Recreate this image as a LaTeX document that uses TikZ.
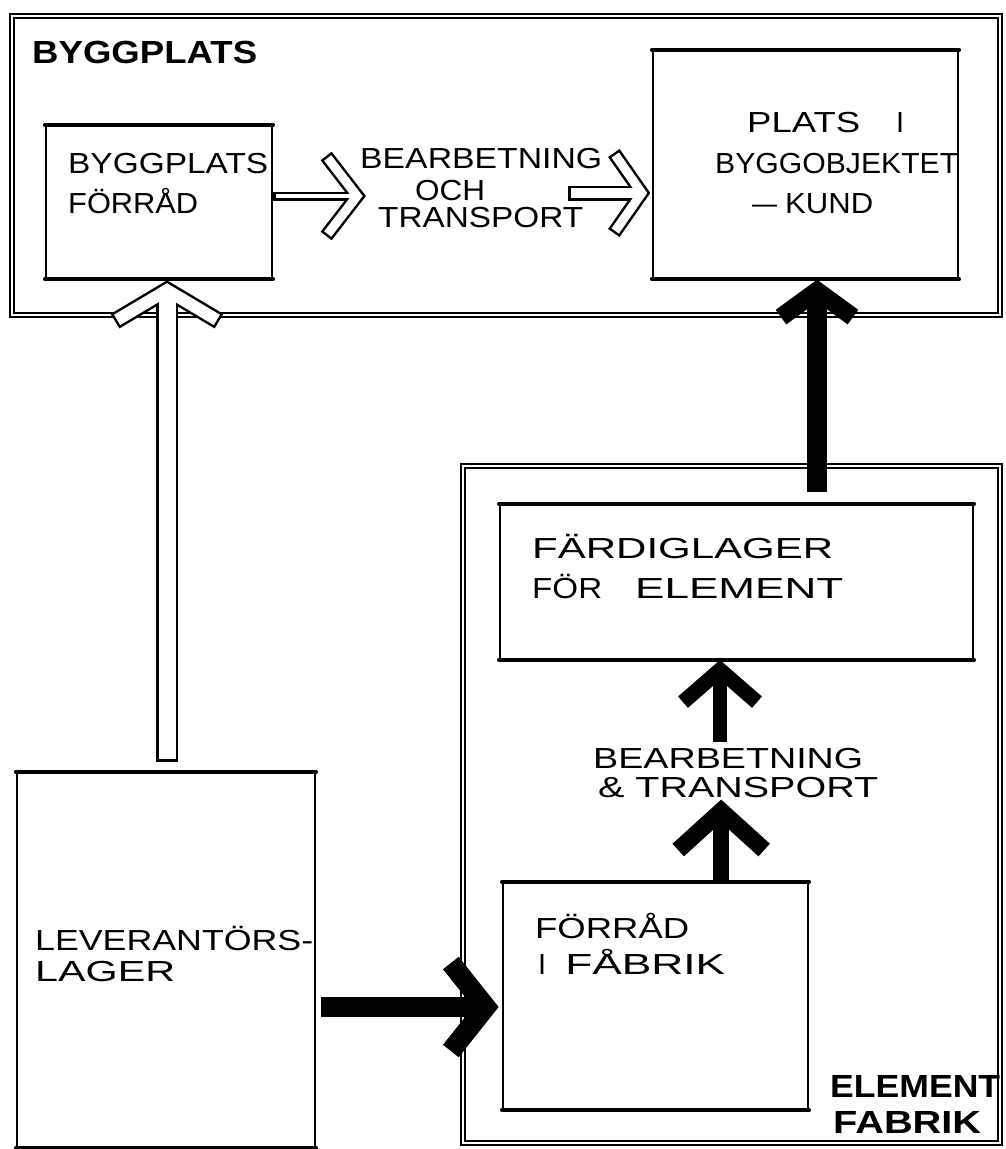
\documentclass[tikz,border=0pt]{standalone}
\usepackage{graphicx}
\usepackage{fontspec}
\setmainfont{Liberation Sans}
\usetikzlibrary{calc}

% stretch a line of text horizontally to a given width
\newcommand{\linefit}[2]{\resizebox{#1}{\height}{#2}}

% solid arrow pointing up: tail, tip, shaft width, arm width, half span, head depth
\newcommand{\SolidUp}[6]{%
  \draw[line width=#3pt, line cap=butt] (#1) -- ($(#2)+(0,0.6*#4+4)$);
  \draw[line width=#4pt, line cap=butt, line join=miter]
    ($(#2)+(-#5,#6)$) -- ($(#2)+(0,0.65*#4)$) -- ($(#2)+(#5,#6)$);}

% solid arrow pointing right
\newcommand{\SolidRight}[6]{%
  \draw[line width=#3pt, line cap=butt] (#1) -- ($(#2)+(-0.6*#4-4,0)$);
  \draw[line width=#4pt, line cap=butt, line join=miter]
    ($(#2)+(-#6,-#5)$) -- ($(#2)+(-0.65*#4,0)$) -- ($(#2)+(-#6,#5)$);}

% outlined (hollow) arrow pointing up
\newcommand{\HollowUp}[6]{%
  \draw[line width=#3pt, line cap=butt] (#1) -- ($(#2)+(0,0.6*#4+4)$);
  \draw[line width=#4pt, line cap=butt, line join=miter]
    ($(#2)+(-#5,#6)$) -- ($(#2)+(0,0.65*#4)$) -- ($(#2)+(#5,#6)$);
  \draw[white, line width={(#3-5)*1pt}, line cap=butt, shorten <=2.5pt]
    (#1) -- ($(#2)+(0,0.6*#4+4)$);
  \draw[white, line width={(#4-5)*1pt}, line cap=butt, line join=miter,
        shorten <=2.5pt, shorten >=2.5pt]
    ($(#2)+(-#5,#6)$) -- ($(#2)+(0,0.65*#4)$) -- ($(#2)+(#5,#6)$);}

% outlined (hollow) arrow pointing right
\newcommand{\HollowRight}[6]{%
  \draw[line width=#3pt, line cap=butt] (#1) -- ($(#2)+(-0.6*#4-4,0)$);
  \draw[line width=#4pt, line cap=butt, line join=miter]
    ($(#2)+(-#6,-#5)$) -- ($(#2)+(-0.65*#4,0)$) -- ($(#2)+(-#6,#5)$);
  \draw[white, line width={(#3-5)*1pt}, line cap=butt, shorten <=2.5pt]
    (#1) -- ($(#2)+(-0.6*#4-4,0)$);
  \draw[white, line width={(#4-5)*1pt}, line cap=butt, line join=miter,
        shorten <=2.5pt, shorten >=2.5pt]
    ($(#2)+(-#6,-#5)$) -- ($(#2)+(-0.65*#4,0)$) -- ($(#2)+(-#6,#5)$);}

\begin{document}
\begin{tikzpicture}[x=1pt, y=-1pt,
  frame/.style={draw, double, line width=1.3pt, double distance=2.6pt, inner sep=0pt},
  box/.style={draw, line width=2.3pt, inner sep=0pt},
  txt/.style={anchor=base west, inner sep=0pt, font=\fontsize{29}{34}\selectfont},
  lab/.style={anchor=base west, inner sep=0pt, font=\fontsize{32}{38}\selectfont\bfseries}]

\fill[white] (0,0) rectangle (1005,1149);
\useasboundingbox (0,0) rectangle (1005,1149);

% site and factory frames
\node[frame, minimum width=988pt, minimum height=299pt] (site) at (506,165.5) {};
\node[frame, minimum width=537pt, minimum height=677pt] (factory) at (731.5,804.5) {};

% storage and process boxes
\node[box, minimum width=226pt, minimum height=152pt] (store) at (159,202) {};
\node[box, minimum width=305pt, minimum height=227pt] (place) at (805.5,164.5) {};
\node[box, minimum width=473pt, minimum height=154pt] (ready) at (736.5,582) {};
\node[box, minimum width=305pt, minimum height=226pt] (fstore) at (655.5,996) {};
\node[box, minimum width=298pt, minimum height=374pt] (supplier) at (166,960) {};

% heavier top and bottom edges of the boxes
\foreach \b in {store,place,ready,fstore,supplier}
  \draw[line width=3.8pt, line cap=round]
    (\b.north west) -- (\b.north east) (\b.south west) -- (\b.south east);

% labels
\node[lab] (siteLabel) at (32,63) {\linefit{225pt}{BYGGPLATS}};
\node[lab] (facLabelA) at (830,1097) {\linefit{170pt}{ELEMENT}};
\node[lab] (facLabelB) at (833,1133) {\linefit{148pt}{FABRIK}};

\node[txt] (storeA) at (68,173) {\linefit{200pt}{BYGGPLATS}};
\node[txt] (storeB) at (68,213) {\linefit{130pt}{FÖRRÅD}};

\node[txt] (p1a) at (360,168) {\linefit{242pt}{BEARBETNING}};
\node[txt] (p1b) at (415,200) {\linefit{70pt}{OCH}};
\node[txt] (p1c) at (378,227) {\linefit{205pt}{TRANSPORT}};

\node[txt] (placeA) at (747,132) {\linefit{113pt}{PLATS}\hspace{36pt}I};
\node[txt] (placeB) at (715,173) {\linefit{243pt}{BYGGOBJEKTET}};
\node[txt] (placeC) at (752,213) {\linefit{25pt}{–}\hspace{8pt}\linefit{88pt}{KUND}};

\node[txt] (readyA) at (532,558) {\linefit{301pt}{FÄRDIGLAGER}};
\node[txt] (readyB) at (532,598) {\linefit{70pt}{FÖR}\hspace{33pt}\linefit{208pt}{ELEMENT}};

\node[txt] (p2a) at (593,768) {\linefit{270pt}{BEARBETNING}};
\node[txt] (p2b) at (598,797) {\linefit{280pt}{\& TRANSPORT}};

\node[txt] (fstoreA) at (535,938) {\linefit{154pt}{FÖRRÅD}};
\node[txt] (fstoreB) at (538,974) {I\hspace{19pt}\linefit{160pt}{FÅBRIK}};

\node[txt] (supA) at (35,950) {\linefit{278pt}{LEVERANTÖRS-}};
\node[txt] (supB) at (35,981) {\linefit{140pt}{LAGER}};

% arrow tips
\coordinate (t1) at ($(store.east)+(93,-6)$);
\coordinate (t2) at ($(place.west)+(-1,28.5)$);
\coordinate (t3) at ($(store.south)+(8,0)$);
\coordinate (t4) at ($(place.south)+(11.5,0)$);
\coordinate (t5) at ($(ready.south)+(-16.5,0)$);
\coordinate (t6) at ($(p2b.base)+(-17,3)$);
\coordinate (t7) at ($(fstore.west)+(-3,11)$);

% flows on the building site
\HollowRight{t1 -| store.east}{t1}{9}{14}{40}{40}
\HollowRight{$(t2 -| p1b.east)+(83,0)$}{t2}{15}{14}{40}{37}
\HollowUp{$(t3 |- supplier.north)+(0,-10)$}{t3}{22}{17}{52}{42}

% flows through the element factory
\SolidRight{$(t7 -| supplier.east)+(5,0)$}{t7}{20}{20}{44}{48}
\SolidUp{t6 |- fstore.north}{t6}{16}{17}{43}{50}
\SolidUp{$(t5 |- p2a.north)+(0,-6)$}{t5}{14}{15}{37}{42}
\SolidUp{$(t4 |- ready.north)+(0,-12)$}{t4}{20}{18}{36}{38}

\end{tikzpicture}
\end{document}
